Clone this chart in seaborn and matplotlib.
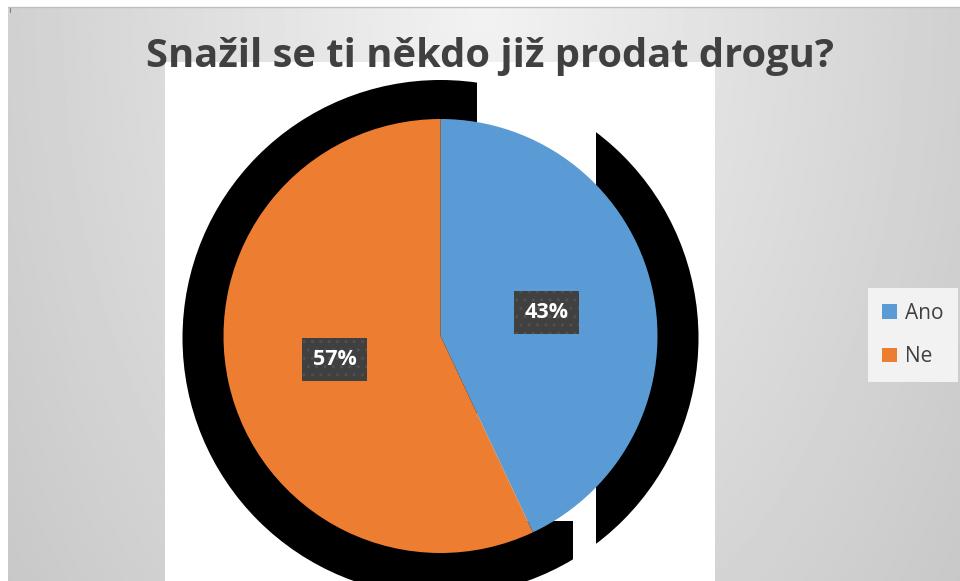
import matplotlib
matplotlib.use("Agg")
import matplotlib.pyplot as plt
from matplotlib.patches import Rectangle, Circle
import seaborn as sns
import numpy as np

sns.set_style("white")
plt.rcParams['font.family'] = ['Open Sans', 'DejaVu Sans']

# data
title = "Snažil se ti někdo již prodat drogu?"
labels = ["Ano", "Ne"]
values = [43, 57]
colors = sns.color_palette(["#5B9BD5", "#ED7D31"])

W, H = 960, 581
fig = plt.figure(figsize=(W / 100, H / 100), dpi=100)
ax = fig.add_axes([0, 0, 1, 1])

# gray gradient background
gx, gy = np.meshgrid(np.linspace(-1, 1, 480), np.linspace(0, 1, 290))
d = np.sqrt(0.9 * gx ** 2 + 0.5 * gy ** 2)
shade = 0.95 - 0.14 * d
ax.imshow(shade, cmap="gray", vmin=0, vmax=1, extent=(8, W, 0, H - 7),
          origin="upper", aspect="auto", zorder=0, interpolation="bilinear")
ax.plot([8, W], [H - 7, H - 7], color="#bfbfbf", lw=1, zorder=1)
ax.plot([10, 10], [H - 12, H - 8], color="#808080", lw=0.8, zorder=1)

# white plot area
ax.add_patch(Rectangle((165, 0), 550, 519, fc="white", ec="none", zorder=1))

# the broken black shadow behind the pie
cx, cy, R = 440.5, 243, 258
for rx, ry, rw, rh in [(0, 0, 477, H), (596, 0, 400, H), (477, 0, 96, 60)]:
    c = Circle((cx, cy), R, fc="black", ec="none", zorder=2)
    ax.add_patch(c)
    c.set_clip_path(Rectangle((rx, ry), rw, rh, transform=ax.transData))

wedges, texts, autotexts = ax.pie(
    values, colors=colors, startangle=90, counterclock=False,
    center=(440.5, 245), radius=217, autopct="%1.0f%%", pctdistance=0.5,
    frame=True, wedgeprops=dict(zorder=3, linewidth=0))

for t in autotexts:
    t.set_color("white")
    t.set_fontweight("bold")
    t.set_fontsize(15.5)
    t.set_zorder(5)
    t.set_bbox(dict(boxstyle="square,pad=0.5", fc="#404040", ec="#505050",
                    lw=0, hatch=".."))

ax.set_xlim(0, W)
ax.set_ylim(0, H)
ax.set_aspect("auto")
ax.axis("off")

tt = ax.text(490, H - 67, title, ha="center", va="baseline", fontsize=26,
             fontweight="bold", color="#404040", zorder=6)
fig.canvas.draw()
bb = tt.get_window_extent()
tt.set_fontsize(26 * 690 / bb.width)

leg = fig.legend(wedges, labels, loc="center",
                 bbox_to_anchor=(913 / W, 1 - 335 / H), frameon=True,
                 facecolor="#f2f2f2", edgecolor="none", framealpha=1,
                 fancybox=False, fontsize=15, labelspacing=1.1,
                 handlelength=0.7, handleheight=0.7, handletextpad=0.4,
                 borderpad=0.7, labelcolor="#404040")

fig.savefig("out.png", dpi=100)
